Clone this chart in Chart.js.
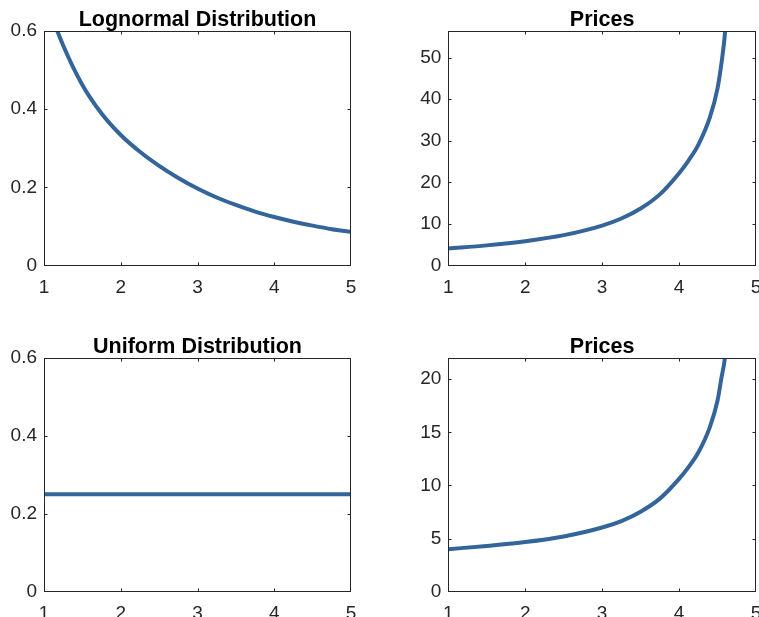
<!DOCTYPE html>
<html>
<head>
<meta charset="utf-8">
<script src="https://cdn.jsdelivr.net/npm/chart.js@4/dist/chart.umd.min.js"></script>
<style>
  html, body { margin: 0; padding: 0; background: #fff; overflow: hidden; }
  body { width: 759px; height: 617px; position: relative; }
  .cell { position: absolute; width: 400px; height: 310px; }
</style>
</head>
<body>
<div class="cell" style="left:0px;top:0px"><canvas id="c1"></canvas></div>
<div class="cell" style="left:380px;top:0px"><canvas id="c2"></canvas></div>
<div class="cell" style="left:0px;top:327px"><canvas id="c3"></canvas></div>
<div class="cell" style="left:380px;top:327px"><canvas id="c4"></canvas></div>
<script>
// x ticks shared by every panel
const xTicks = [1, 2, 3, 4, 5];

// lognormal distribution (top left)
const lognX = [1, 1.25, 1.5, 1.75, 2, 2.25, 2.5, 2.75, 3, 3.25, 3.5, 3.75, 4, 4.25, 4.5, 4.75, 5];
const lognY = [0.69, 0.563, 0.462, 0.389, 0.334, 0.291, 0.255, 0.224, 0.197, 0.174, 0.155, 0.138, 0.124, 0.112, 0.102, 0.093, 0.086];

// uniform distribution (bottom left)
const unifX = [1, 5];
const unifY = [0.25, 0.25];
const distTicks = [0, 0.2, 0.4, 0.6];

// prices (right column)
const priceX = [1, 1.5, 2, 2.5, 3, 3.25, 3.5, 3.75, 4, 4.125, 4.25, 4.4, 4.5, 4.55, 4.6, 4.7];
const pricesLogn = [4.1, 4.84, 5.85, 7.3, 9.6, 11.3, 13.7, 17.1, 22.2, 25.3, 29.0, 35.6, 42.6, 48.5, 56.5, 85];
const pricesUnif = [4.0, 4.31, 4.67, 5.2, 6.04, 6.65, 7.53, 8.76, 10.62, 11.75, 13.1, 15.5, 18.0, 20.1, 22.3, 33];
const priceTicks1 = [0, 10, 20, 30, 40, 50];
const priceTicks2 = [0, 5, 10, 15, 20];

const FONT = "'Liberation Sans', Arial, Helvetica, sans-serif";
const AXIS = '#262626';
const LINE = '#34659a';

// MATLAB-like box with inward ticks on all four sides, plus the title
const boxPlugin = {
  id: 'box',
  afterDatasetsDraw(chart, args, opts) {
    const { ctx, chartArea: a, scales } = chart;
    const l = Math.round(a.left) + 0.5, r = Math.round(a.right) - 0.5;
    const t = Math.round(a.top) + 0.5, b = Math.round(a.bottom) - 0.5;
    ctx.save();
    ctx.strokeStyle = AXIS;
    ctx.lineWidth = 1;
    ctx.strokeRect(l, t, r - l, b - t);
    ctx.beginPath();
    for (const tk of scales.x.ticks) {
      const px = Math.round(scales.x.getPixelForValue(tk.value)) + 0.5;
      if (px <= l + 1 || px >= r - 1) continue;
      ctx.moveTo(px, b); ctx.lineTo(px, b - 3);
      ctx.moveTo(px, t); ctx.lineTo(px, t + 3);
    }
    for (const tk of scales.y.ticks) {
      const py = Math.round(scales.y.getPixelForValue(tk.value)) + 0.5;
      if (py <= t + 1 || py >= b - 1) continue;
      ctx.moveTo(l, py); ctx.lineTo(l + 3, py);
      ctx.moveTo(r, py); ctx.lineTo(r - 3, py);
    }
    ctx.stroke();
    ctx.fillStyle = '#000';
    ctx.font = 'bold 21.5px ' + FONT;
    ctx.textAlign = 'center';
    ctx.textBaseline = 'alphabetic';
    ctx.fillText(opts.text, (a.left + a.right) / 2, a.top - 5);
    ctx.restore();
  }
};

function makeChart(id, title, xs, ys, yMax, yTicks, yWidth, xHeight) {
  const pts = xs.map((x, i) => ({ x: x, y: ys[i] }));
  const plotRight = yWidth === 44 ? 351 : 376;
  return new Chart(document.getElementById(id), {
    type: 'line',
    data: {
      datasets: [{
        data: pts,
        borderColor: LINE,
        borderWidth: 4,
        pointRadius: 0,
        cubicInterpolationMode: 'monotone',
        fill: false
      }]
    },
    options: {
      responsive: true,
      maintainAspectRatio: false,
      animation: false,
      devicePixelRatio: 1,
      layout: { padding: { top: 31, right: 400 - plotRight, left: 0, bottom: 0 } },
      plugins: {
        legend: { display: false },
        tooltip: { enabled: false },
        title: { display: false },
        box: { text: title }
      },
      scales: {
        x: {
          type: 'linear',
          min: 1,
          max: 5,
          afterBuildTicks: s => { s.ticks = xTicks.map(v => ({ value: v })); },
          afterFit: s => { s.height = xHeight; },
          grid: { display: false, drawTicks: false },
          border: { display: false },
          ticks: { color: AXIS, padding: 11, maxRotation: 0, font: { family: FONT, size: 19 } }
        },
        y: {
          type: 'linear',
          min: 0,
          max: yMax,
          afterBuildTicks: s => { s.ticks = yTicks.map(v => ({ value: v })); },
          afterFit: s => { s.width = yWidth; },
          grid: { display: false, drawTicks: false },
          border: { display: false },
          ticks: { color: AXIS, padding: 7, font: { family: FONT, size: 19 } }
        }
      }
    },
    plugins: [boxPlugin]
  });
}

makeChart('c1', 'Lognormal Distribution', lognX, lognY, 0.6, distTicks, 44, 44.5);
makeChart('c2', 'Prices', priceX, pricesLogn, 56.4, priceTicks1, 68.3, 44.5);
makeChart('c3', 'Uniform Distribution', unifX, unifY, 0.6, distTicks, 44, 45.3);
makeChart('c4', 'Prices', priceX, pricesUnif, 22, priceTicks2, 68.3, 45.3);
</script>
</body>
</html>
